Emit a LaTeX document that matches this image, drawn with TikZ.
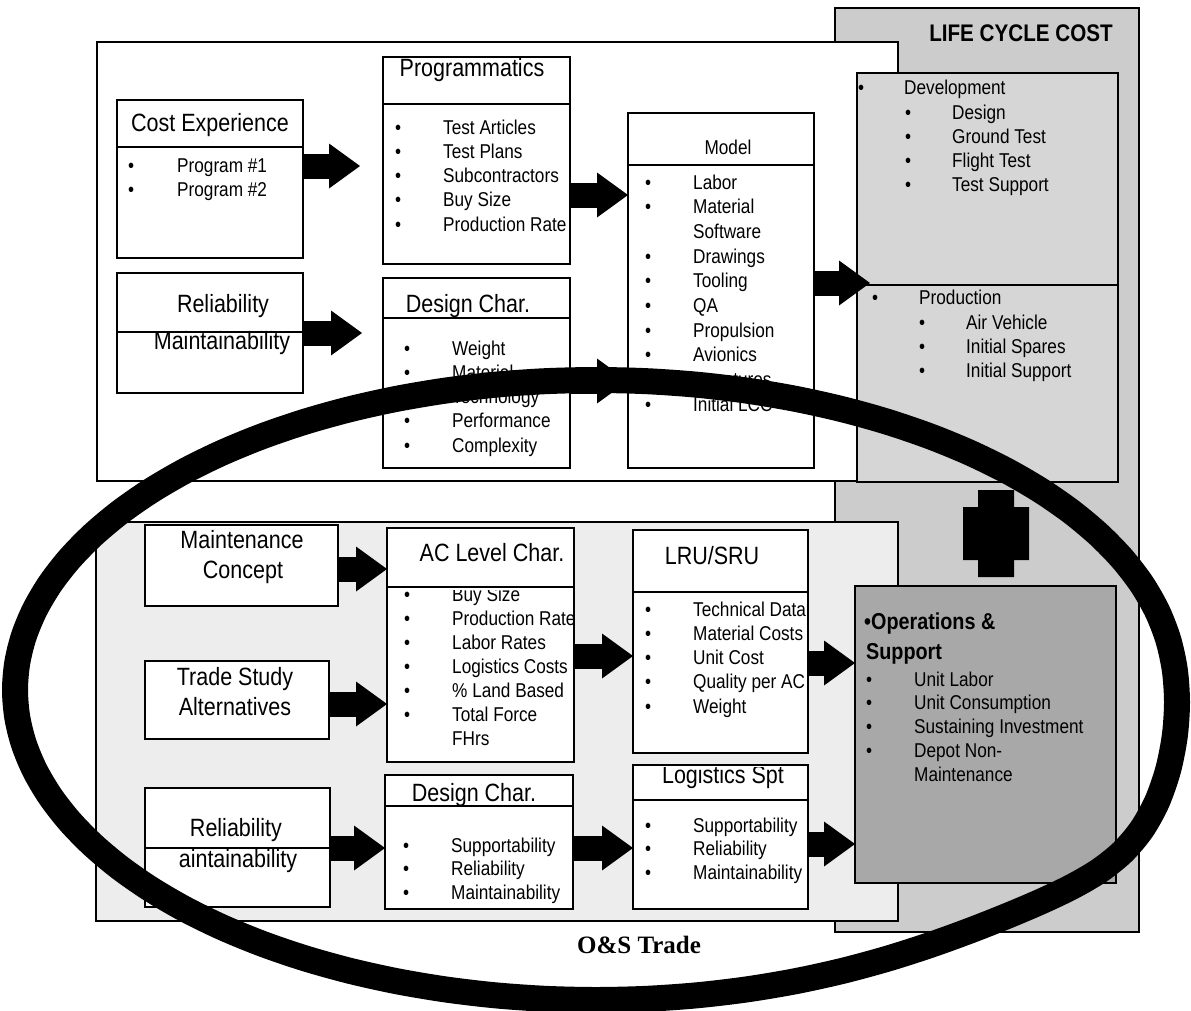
\documentclass[tikz,border=0pt]{standalone}
\usepackage{fontspec}
\setmainfont{Liberation Sans}[FakeStretch=0.86]
\newfontfamily\tradefont{Liberation Serif}
\usetikzlibrary{arrows.meta,fit}

\definecolor{lccgray}{gray}{0.80}
\definecolor{phasegray}{gray}{0.84}
\definecolor{opsgray}{gray}{0.66}
\definecolor{trayfill}{gray}{0.93}

% bullet column + text column, first row on the node's baseline
\newcommand{\bulletrows}[2]{\begin{tabular}[t]{@{}p{#1}@{}l@{}}#2\end{tabular}}

\tikzset{
  panel/.style={draw=black, line width=1.5pt, inner sep=0pt, outer sep=0pt},
  box/.style={draw=black, fill=white, line width=2pt, inner sep=0pt, outer sep=0pt},
  rule/.style={line width=2pt},
  head/.style={inner sep=0pt, anchor=base, font=\fontsize{25pt}{30pt}\selectfont},
  smallhead/.style={inner sep=0pt, anchor=base, font=\fontsize{20pt}{24pt}\selectfont},
  itemlist/.style={inner sep=0pt, anchor=base west, font=\fontsize{20pt}{#1pt}\selectfont},
  blockarrow/.style={line width=25pt, -{Triangle[length=31pt 0 0, width=45pt 0 0, line width=0pt 0 0]}},
  ring/.style={line width=26pt, draw=black, line join=round},
}

\begin{document}
\begin{tikzpicture}[x=1pt,y=-1pt]
\fill[white] (0,0) rectangle (1191,1010);
\useasboundingbox (0,0) rectangle (1191,1010);

% ---------- life cycle cost column and the two trade panels ----------
\node[panel, line width=2pt, fill=lccgray, fit={(835,8) (1139,932)}] (lcc) {};
\node[panel, fill=white, fit={(97,42) (898,481)}] (cost-panel) {};
\node[panel, fill=trayfill, fit={(96,522) (898,921)}] (os-panel) {};

\node[inner sep=0pt, anchor=base, font=\bfseries\fontsize{24pt}{28pt}\selectfont] (lcc-title) at (1021,41) {LIFE CYCLE COST};

% development / production phases
\node[box, fill=phasegray, fit={(857,73) (1118,482)}] (phases) {};
\draw[rule] (phases.west |- 0,285) -- (phases.east |- 0,285);
\node[itemlist=24.3] (dev-label) at (858,94) {\bulletrows{46pt}{\textbullet & Development}};
\node[itemlist=24.3] (dev-items) at (905,119) {\bulletrows{47pt}{\textbullet & Design\\ \textbullet & Ground Test\\ \textbullet & Flight Test\\ \textbullet & Test Support}};
\node[itemlist=24] (prod-label) at (872,304) {\bulletrows{47pt}{\textbullet & Production}};
\node[itemlist=24] (prod-items) at (919,329) {\bulletrows{47pt}{\textbullet & Air Vehicle\\ \textbullet & Initial Spares\\ \textbullet & Initial Support}};

% plus sign between the phases and O&S
\fill (978,490) -- (1014,490) -- (1014,507) -- (1029,507) -- (1029,560) -- (1014,560) -- (1014,577) -- (978,577) -- (978,560) -- (963,560) -- (963,507) -- (978,507) -- cycle;

% operations & support
\node[box, fill=opsgray, fit={(855,586) (1116,883)}] (ops) {};
\node[inner sep=0pt, anchor=base west, font=\bfseries\fontsize{23pt}{30pt}\selectfont] (ops-title) at (864,629) {\textbullet Operations \&};
\node[inner sep=0pt, anchor=base west, font=\bfseries\fontsize{23pt}{30pt}\selectfont] (ops-title2) at (866,659) {Support};
\node[itemlist=23.75] (ops-items) at (866,686) {\bulletrows{48pt}{\textbullet & Unit Labor\\ \textbullet & Unit Consumption\\ \textbullet & Sustaining Investment\\ \textbullet & Depot Non-\\ & Maintenance}};

% ---------- development / production cost model ----------
\node[box, fit={(117,100) (303,258)}] (ce) {};
\draw[rule] (ce.west |- 0,147) -- (ce.east |- 0,147);
\node[head] (ce-title) at (210,131) {Cost Experience};
\node[itemlist=24.5] (ce-items) at (128,172) {\bulletrows{49pt}{\textbullet & Program \#1\\ \textbullet & Program \#2}};

\node[box, fit={(117,273) (303,393)}] (relup) {};
\node[head] (relup-title) at (223,312) {Reliability};
\node[head] (relup-title2) at (222,349) {Maintainability};
\draw[rule] (relup.west |- 0,332) -- (relup.east |- 0,332);

\node[box, fit={(383,57) (570,264)}] (prog) {};
\begin{scope}
  \clip (383,57) rectangle (570,264);
  \node[head] (prog-title) at (472,76) {Programmatics};
\end{scope}
\draw[rule] (prog.west |- 0,104) -- (prog.east |- 0,104);
\node[itemlist=24.3] (prog-items) at (395,134) {\bulletrows{48pt}{\textbullet & Test Articles\\ \textbullet & Test Plans\\ \textbullet & Subcontractors\\ \textbullet & Buy Size\\ \textbullet & Production Rate}};

\node[box, fit={(383,278) (570,468)}] (desup) {};
\node[head] (desup-title) at (468,312) {Design Char.};
\draw[rule] (desup.west |- 0,318) -- (desup.east |- 0,318);
\node[itemlist=24.3] (desup-items) at (404,355) {\bulletrows{48pt}{\textbullet & Weight\\ \textbullet & Material\\ \textbullet & Technology\\ \textbullet & Performance\\ \textbullet & Complexity}};

\node[box, fit={(628,113) (814,468)}] (model) {};
\draw[rule] (model.west |- 0,165) -- (model.east |- 0,165);
\node[smallhead] (model-title) at (728,154) {Model};
\node[itemlist=24.7] (model-items) at (645,189) {\bulletrows{48pt}{\textbullet & Labor\\ \textbullet & Material\\ & Software\\ \textbullet & Drawings\\ \textbullet & Tooling\\ \textbullet & QA\\ \textbullet & Propulsion\\ \textbullet & Avionics\\ \textbullet & Structures\\ \textbullet & Initial LCC}};

% ---------- operations & support trade ----------
\node[box, fit={(145,525) (338,606)}] (maint) {};
\node[head] (maint-title) at (242,548) {Maintenance};
\node[head] (maint-title2) at (243,578) {Concept};

\node[box, fit={(145,661) (329,739)}] (trade) {};
\node[head] (trade-title) at (235,685) {Trade Study};
\node[head] (trade-title2) at (235,715) {Alternatives};

\node[box, fit={(145,788) (330,907)}] (rellow) {};
\node[head] (rellow-title) at (236,836) {Reliability};
\node[head] (rellow-title2) at (238,867) {aintainability};
\draw[rule] (rellow.west |- 0,848) -- (rellow.east |- 0,848);

\node[box, fit={(387,528) (574,762)}] (ac) {};
\node[head] (ac-title) at (492,561) {AC Level Char.};
\begin{scope}
  \clip (387,590) rectangle (574,762);
  \node[itemlist=24] (ac-items) at (404,601) {\bulletrows{48pt}{\textbullet & Buy Size\\ \textbullet & Production Rate\\ \textbullet & Labor Rates\\ \textbullet & Logistics Costs\\ \textbullet & \% Land Based\\ \textbullet & Total Force\\ & FHrs}};
\end{scope}
\draw[rule] (ac.west |- 0,587) -- (ac.east |- 0,587);

\node[box, fit={(385,775) (573,909)}] (deslow) {};
\node[head] (deslow-title) at (474,801) {Design Char.};
\draw[rule] (deslow.west |- 0,806) -- (deslow.east |- 0,806);
\node[itemlist=23.5] (deslow-items) at (403,852) {\bulletrows{48pt}{\textbullet & Supportability\\ \textbullet & Reliability\\ \textbullet & Maintainability}};

\node[box, fit={(633,530) (808,753)}] (lru) {};
\node[head] (lru-title) at (712,564) {LRU/SRU};
\draw[rule] (lru.west |- 0,592) -- (lru.east |- 0,592);
\node[itemlist=24.25] (lru-items) at (645,616) {\bulletrows{48pt}{\textbullet & Technical Data\\ \textbullet & Material Costs\\ \textbullet & Unit Cost\\ \textbullet & Quality per AC\\ \textbullet & Weight}};

\node[box, fit={(633,765) (808,909)}] (log) {};
\begin{scope}
  \clip (633,767) rectangle (808,909);
  \node[head] (log-title) at (723,783) {Logistics Spt};
\end{scope}
\draw[rule] (log.north west) -- (log.north east);
\draw[rule] (log.west |- 0,800) -- (log.east |- 0,800);
\node[itemlist=23.5] (log-items) at (645,832) {\bulletrows{48pt}{\textbullet & Supportability\\ \textbullet & Reliability\\ \textbullet & Maintainability}};

% ---------- block arrows ----------
\coordinate (prog-in) at (360,166);
\coordinate (desup-in) at (362,333);
\coordinate (phases-in) at (870,283);
\draw[blockarrow] (ce.east |- prog-in) -- (prog-in);
\draw[blockarrow] (relup.east |- desup-in) -- (desup-in);
\draw[blockarrow] (prog.east |- 0,195) -- (model.west |- 0,195);
\draw[blockarrow] (desup.east |- 0,381) -- (model.west |- 0,381);
\draw[blockarrow] (model.east |- phases-in) -- (phases-in);

\draw[blockarrow] (maint.east |- 0,569) -- (ac.west |- 0,569);
\draw[blockarrow] (trade.east |- 0,704) -- (ac.west |- 0,704);
\draw[blockarrow] (rellow.east |- 0,848) -- (deslow.west |- 0,848);
\draw[blockarrow] (ac.east |- 0,656) -- (lru.west |- 0,656);
\draw[blockarrow] (deslow.east |- 0,848) -- (log.west |- 0,848);
\draw[blockarrow] (lru.east |- 0,663) -- (ops.west |- 0,663);
\draw[blockarrow] (log.east |- 0,844) -- (ops.west |- 0,844);

% ---------- the O&S trade ring: an ellipse that sags a little at the lower right ----------
\draw[ring] plot[smooth cycle, domain=0:355, samples=72, variable=\t]
  ({596+581*cos(\t)}, {690+310*sin(\t)+33*max(0,cos(\t-20))^16});

\node[inner sep=0pt, anchor=base, font=\tradefont\bfseries\fontsize{25pt}{30pt}\selectfont] (os-title) at (639,953) {O\&S Trade};
\end{tikzpicture}
\end{document}
